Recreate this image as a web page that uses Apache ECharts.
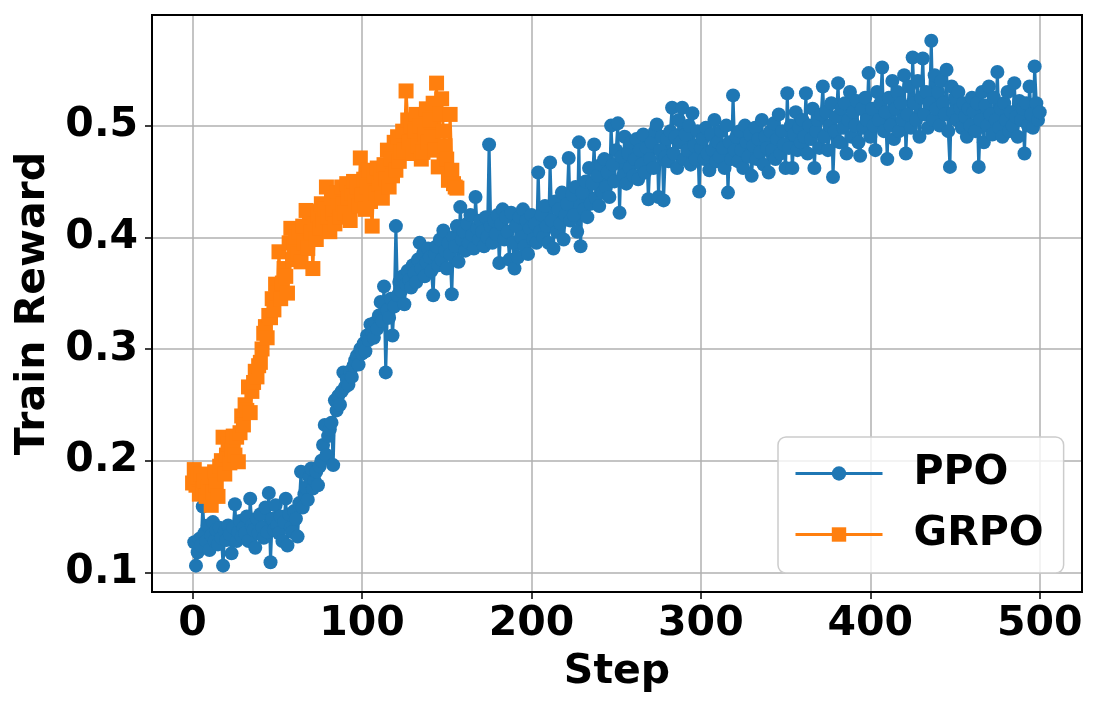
<!DOCTYPE html>
<html>
<head>
<meta charset="utf-8">
<script src="https://cdn.jsdelivr.net/npm/echarts@6/dist/echarts.min.js"></script>
<style>
  html, body { margin: 0; padding: 0; background: #fff; }
  #chart { width: 1099px; height: 712px; }
</style>
</head>
<body>
<div id="chart"></div>
<script>
// PPO reward, steps 1..500
var ppoReward = [
  0.127, 0.106, 0.118, 0.130, 0.124, 0.159, 0.135, 0.128, 0.142, 0.120,
  0.133, 0.145, 0.128, 0.138, 0.125, 0.140, 0.131, 0.106, 0.137, 0.129,
  0.142, 0.134, 0.117, 0.140, 0.161, 0.128, 0.136, 0.146, 0.132, 0.140,
  0.135, 0.150, 0.128, 0.166, 0.142, 0.138, 0.122, 0.148, 0.135, 0.152,
  0.140, 0.131, 0.158, 0.136, 0.171, 0.109, 0.148, 0.138, 0.160, 0.142,
  0.135, 0.150, 0.128, 0.145, 0.166, 0.124, 0.152, 0.140, 0.136, 0.155,
  0.148, 0.132, 0.162, 0.190, 0.158, 0.170, 0.176, 0.165, 0.185, 0.193,
  0.175, 0.182, 0.190, 0.178, 0.195, 0.200, 0.214, 0.232, 0.205, 0.222,
  0.228, 0.234, 0.196, 0.254, 0.245, 0.258, 0.250, 0.262, 0.279, 0.266,
  0.273, 0.268, 0.280, 0.275, 0.285, 0.290, 0.294, 0.286, 0.300, 0.296,
  0.305, 0.298, 0.312, 0.308, 0.322, 0.315, 0.310, 0.324, 0.318, 0.330,
  0.342, 0.325, 0.356, 0.279, 0.335, 0.328, 0.345, 0.312, 0.338, 0.410,
  0.348, 0.360, 0.352, 0.365, 0.340, 0.358, 0.370, 0.362, 0.355, 0.375,
  0.368, 0.360, 0.380, 0.395, 0.372, 0.385, 0.365, 0.378, 0.390, 0.382,
  0.370, 0.348, 0.385, 0.392, 0.375, 0.398, 0.380, 0.406, 0.388, 0.372,
  0.395, 0.385, 0.349, 0.400, 0.392, 0.410, 0.378, 0.427, 0.398, 0.405,
  0.388, 0.412, 0.395, 0.420, 0.402, 0.390, 0.436, 0.408, 0.398, 0.415,
  0.405, 0.392, 0.418, 0.400, 0.483, 0.410, 0.395, 0.415, 0.403, 0.420,
  0.377, 0.412, 0.425, 0.398, 0.418, 0.405, 0.380, 0.422, 0.395, 0.372,
  0.410, 0.382, 0.418, 0.400, 0.425, 0.392, 0.415, 0.385, 0.408, 0.420,
  0.398, 0.412, 0.395, 0.458, 0.405, 0.420, 0.400, 0.428, 0.410, 0.395,
  0.467, 0.415, 0.390, 0.432, 0.405, 0.425, 0.412, 0.440, 0.398, 0.420,
  0.430, 0.471, 0.415, 0.438, 0.420, 0.445, 0.405, 0.485, 0.392, 0.440,
  0.425, 0.450, 0.418, 0.462, 0.430, 0.448, 0.483, 0.435, 0.455, 0.428,
  0.465, 0.440, 0.470, 0.445, 0.458, 0.436, 0.500, 0.465, 0.450, 0.478,
  0.502, 0.422, 0.472, 0.455, 0.490, 0.448, 0.475, 0.462, 0.485, 0.455,
  0.470, 0.488, 0.452, 0.478, 0.465, 0.492, 0.458, 0.480, 0.434, 0.470,
  0.485, 0.462, 0.495, 0.501, 0.436, 0.478, 0.490, 0.433, 0.472, 0.488,
  0.468, 0.495, 0.516, 0.475, 0.490, 0.462, 0.505, 0.485, 0.516, 0.470,
  0.492, 0.478, 0.500, 0.465, 0.511, 0.482, 0.470, 0.495, 0.441, 0.480,
  0.488, 0.470, 0.498, 0.475, 0.460, 0.492, 0.478, 0.505, 0.468, 0.485,
  0.472, 0.495, 0.480, 0.462, 0.500, 0.440, 0.485, 0.470, 0.527, 0.478,
  0.490, 0.468, 0.495, 0.478, 0.462, 0.500, 0.485, 0.472, 0.492, 0.455,
  0.482, 0.498, 0.470, 0.488, 0.476, 0.505, 0.465, 0.490, 0.480, 0.458,
  0.495, 0.478, 0.502, 0.470, 0.488, 0.510, 0.475, 0.495, 0.483, 0.462,
  0.529, 0.480, 0.500, 0.462, 0.492, 0.512, 0.478, 0.498, 0.485, 0.505,
  0.490, 0.529, 0.475, 0.500, 0.488, 0.515, 0.462, 0.495, 0.505, 0.480,
  0.510, 0.535, 0.490, 0.512, 0.478, 0.500, 0.520, 0.454, 0.495, 0.508,
  0.538, 0.485, 0.515, 0.498, 0.520, 0.475, 0.505, 0.530, 0.490, 0.512,
  0.500, 0.522, 0.485, 0.473, 0.515, 0.498, 0.525, 0.505, 0.547, 0.490,
  0.515, 0.500, 0.478, 0.530, 0.505, 0.520, 0.552, 0.495, 0.512, 0.470,
  0.525, 0.500, 0.540, 0.488, 0.515, 0.530, 0.495, 0.520, 0.505, 0.545,
  0.475, 0.510, 0.535, 0.498, 0.561, 0.520, 0.505, 0.540, 0.490, 0.525,
  0.560, 0.510, 0.530, 0.498, 0.520, 0.576, 0.505, 0.545, 0.515, 0.530,
  0.500, 0.540, 0.520, 0.510, 0.550, 0.495, 0.463, 0.535, 0.512, 0.525,
  0.505, 0.530, 0.515, 0.498, 0.520, 0.508, 0.490, 0.515, 0.500, 0.525,
  0.512, 0.495, 0.520, 0.463, 0.505, 0.530, 0.485, 0.518, 0.500, 0.535,
  0.510, 0.492, 0.525, 0.505, 0.548, 0.498, 0.515, 0.490, 0.520, 0.505,
  0.530, 0.495, 0.512, 0.500, 0.538, 0.508, 0.490, 0.522, 0.505, 0.515,
  0.475, 0.520, 0.500, 0.535, 0.510, 0.498, 0.553, 0.520, 0.505, 0.512
];
var ppoFirstStep = 1;

// GRPO reward, steps 0..156
var grpoReward = [
  0.180, 0.192, 0.178, 0.185, 0.170, 0.188, 0.175, 0.182, 0.168, 0.176,
  0.185, 0.160, 0.172, 0.190, 0.178, 0.168, 0.195, 0.200, 0.221, 0.188,
  0.205, 0.215, 0.198, 0.210, 0.222, 0.205, 0.221, 0.199, 0.225, 0.240,
  0.232, 0.250, 0.245, 0.266, 0.243, 0.262, 0.270, 0.280, 0.275, 0.285,
  0.288, 0.300, 0.314, 0.320, 0.310, 0.330, 0.328, 0.345, 0.335, 0.358,
  0.350, 0.387, 0.345, 0.359, 0.372, 0.365, 0.350, 0.395, 0.408, 0.380,
  0.392, 0.400, 0.385, 0.405, 0.378, 0.410, 0.395, 0.424, 0.390, 0.423,
  0.405, 0.372, 0.412, 0.398, 0.420, 0.408, 0.430, 0.415, 0.425, 0.445,
  0.418, 0.405, 0.435, 0.422, 0.412, 0.440, 0.428, 0.418, 0.445, 0.430,
  0.422, 0.448, 0.435, 0.415, 0.440, 0.450, 0.432, 0.445, 0.428, 0.471,
  0.438, 0.452, 0.425, 0.445, 0.460, 0.432, 0.410, 0.455, 0.440, 0.462,
  0.448, 0.458, 0.435, 0.465, 0.452, 0.478, 0.445, 0.470, 0.455, 0.485,
  0.460, 0.490, 0.468, 0.476, 0.495, 0.478, 0.531, 0.505, 0.485, 0.500,
  0.475, 0.495, 0.510, 0.482, 0.500, 0.470, 0.476, 0.492, 0.515, 0.485,
  0.505, 0.490, 0.520, 0.478, 0.538, 0.463, 0.510, 0.524, 0.495, 0.482,
  0.470, 0.451, 0.510, 0.460, 0.448, 0.445, 0.444
];
var grpoFirstStep = 0;

var xTicks = [0, 100, 200, 300, 400, 500];
var yTicks = [0.1, 0.2, 0.3, 0.4, 0.5];

function toPairs(values, first) {
  return values.map(function (v, i) { return [first + i, v]; });
}

var FONT = 'DejaVu Sans';
var frame = { left: 152, top: 15, width: 930, height: 577 };
// matplotlib-like 5% margins around data
var xMin = -23.95, xMax = 524.95;
var yMin = 0.0824, yMax = 0.599;

function xPix(v) { return frame.left + (v - xMin) / (xMax - xMin) * frame.width; }
function yPix(v) { return frame.top + (yMax - v) / (yMax - yMin) * frame.height; }

var x0 = xPix(xTicks[0]), x1 = xPix(xTicks[xTicks.length - 1]);
var yTop = yPix(yTicks[yTicks.length - 1]), yBot = yPix(yTicks[0]);

var chart = echarts.init(document.getElementById('chart'), null, { renderer: 'canvas' });

var option = {
  animation: false,
  textStyle: { fontFamily: FONT },
  grid: [
    // data + frame
    { left: frame.left, top: frame.top, width: frame.width, height: frame.height,
      show: true, borderColor: '#000', borderWidth: 2, backgroundColor: 'transparent', z: 5 },
    // x ticks / grid lines
    { left: x0, top: frame.top, width: x1 - x0, height: frame.height },
    // y ticks / grid lines
    { left: frame.left, top: yTop, width: frame.width, height: yBot - yTop }
  ],
  xAxis: [
    { gridIndex: 0, type: 'value', min: xMin, max: xMax,
      axisLine: { show: false }, axisTick: { show: false }, axisLabel: { show: false }, splitLine: { show: false } },
    { gridIndex: 1, type: 'value', min: xTicks[0], max: xTicks[xTicks.length - 1], interval: 100,
      axisLine: { show: false },
      axisTick: { show: true, length: 7, lineStyle: { color: '#000', width: 1.5 } },
      axisLabel: { fontSize: 41, fontWeight: 'bold', color: '#000', margin: 12, fontFamily: FONT },
      splitLine: { show: true, lineStyle: { color: '#b0b0b0', width: 1.5 } } },
    { gridIndex: 2, type: 'value', min: 0, max: 1, show: false }
  ],
  yAxis: [
    { gridIndex: 0, type: 'value', min: yMin, max: yMax,
      axisLine: { show: false }, axisTick: { show: false }, axisLabel: { show: false }, splitLine: { show: false } },
    { gridIndex: 1, type: 'value', min: 0, max: 1, show: false },
    { gridIndex: 2, type: 'value', min: yTicks[0], max: yTicks[yTicks.length - 1], interval: 0.1,
      axisLine: { show: false },
      axisTick: { show: true, length: 7, lineStyle: { color: '#000', width: 1.5 } },
      axisLabel: { fontSize: 41, fontWeight: 'bold', color: '#000', margin: 14, fontFamily: FONT,
        formatter: function (v) { return v.toFixed(1); } },
      splitLine: { show: true, lineStyle: { color: '#b0b0b0', width: 1.5 } } }
  ],
  legend: {
    orient: 'vertical',
    left: 778, top: 437,
    padding: [16, 20, 18, 16],
    itemWidth: 87, itemHeight: 18, itemGap: 20,
    backgroundColor: 'rgba(255,255,255,0.8)',
    borderColor: '#cccccc', borderWidth: 1.5, borderRadius: 8,
    lineStyle: { width: 3 },
    textStyle: { fontSize: 41, fontWeight: 'bold', color: '#000', fontFamily: FONT, padding: [0, 0, 0, 26] },
    data: ['PPO', 'GRPO']
  },
  graphic: [
    { type: 'text', x: 33, y: frame.top + frame.height / 2, rotation: Math.PI / 2,
      style: { text: 'Train Reward', font: 'bold 41px "DejaVu Sans"', fill: '#000',
        textAlign: 'center', textVerticalAlign: 'middle' } },
    { type: 'text', x: frame.left + frame.width / 2, y: 672,
      style: { text: 'Step', font: 'bold 41px "DejaVu Sans"', fill: '#000',
        textAlign: 'center', textVerticalAlign: 'middle' } }
  ],
  series: [
    { name: 'PPO', type: 'line', xAxisIndex: 0, yAxisIndex: 0,
      data: toPairs(ppoReward, ppoFirstStep),
      symbol: 'circle', symbolSize: 14, showSymbol: true,
      lineStyle: { color: '#1f77b4', width: 3 },
      itemStyle: { color: '#1f77b4' }, z: 3 },
    { name: 'GRPO', type: 'line', xAxisIndex: 0, yAxisIndex: 0,
      data: toPairs(grpoReward, grpoFirstStep),
      symbol: 'rect', symbolSize: 15, showSymbol: true,
      lineStyle: { color: '#ff7f0e', width: 3 },
      itemStyle: { color: '#ff7f0e' }, z: 4 }
  ]
};

chart.setOption(option);
</script>
</body>
</html>
